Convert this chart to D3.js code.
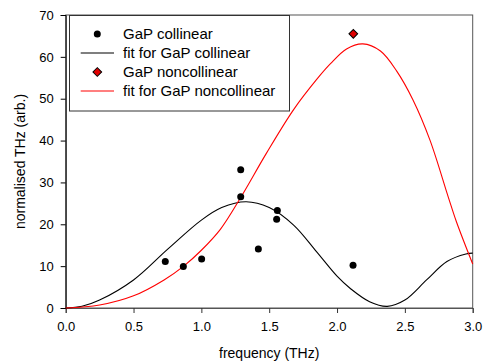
<!DOCTYPE html>
<html>
    <head>
        <meta charset="UTF-8">
        <script src="https://d3js.org/d3.v7.min.js"></script>
        <style>
            body { margin: 0; background: #fff; }
            text { font-family: Arial, "Liberation Sans", sans-serif; fill: #000; }
        </style>
    </head>

    <body>

        <svg id="canvas"></svg>

        <script>

            width = 484;
            height = 363;

            // measured data
            colFreq = [0.734, 0.867, 1.002, 1.29, 1.29, 1.42, 1.56, 1.555, 2.118];
            colVal  = [11.1, 9.9, 11.7, 33.0, 26.6, 14.1, 23.3, 21.2, 10.2];
            nonFreq = [2.12];
            nonVal  = [65.5];

            // fit curves
            colFitFreq = [0, 0.12, 0.25, 0.5, 0.75, 1.0, 1.15, 1.33, 1.5, 1.68, 1.85, 2.0, 2.1, 2.24, 2.37, 2.5, 2.66, 2.81, 2.95, 3.0];
            colFitVal  = [0, 0.4, 1.9, 6.7, 14.0, 21.0, 24.0, 25.4, 24.0, 19.8, 13.4, 7.6, 4.6, 1.5, 0.4, 1.9, 6.7, 11.1, 12.9, 13.1];
            nonFitFreq = [0, 0.25, 0.5, 0.725, 0.87, 1.0, 1.14, 1.29, 1.48, 1.68, 1.85, 1.95, 2.07, 2.19, 2.32, 2.44, 2.56, 2.685, 2.82, 2.88, 3.0];
            nonFitVal  = [0, 0.7, 2.9, 6.7, 10.0, 13.8, 18.8, 26.4, 37.0, 47.4, 54.6, 58.3, 61.9, 63.1, 61.4, 56.6, 49.7, 40.1, 26.5, 20.6, 10.5];

            xTicks = [0, 0.5, 1.0, 1.5, 2.0, 2.5, 3.0];
            yTicks = [0, 10, 20, 30, 40, 50, 60, 70];

            legendLabels = ["GaP collinear", "fit for GaP collinear", "GaP noncollinear", "fit for GaP noncollinear"];

            // plot box (window.top is read-only, so use other names)
            plotLeft = 65.7; plotRight = 472.7; plotTop = 15; plotBottom = 308;

            canvas = d3.select("#canvas")
                .attr("width", width)
                .attr("height", height);

            xscale = d3.scaleLinear().domain([0, 3]).range([plotLeft, plotRight]);
            yscale = d3.scaleLinear().domain([0, 70]).range([plotBottom, plotTop]);

            // frame
            canvas.append("rect")
                .attr("x", plotLeft).attr("y", plotTop)
                .attr("width", plotRight-plotLeft).attr("height", plotBottom-plotTop)
                .attr("style", "fill:none; stroke:#555; stroke-width:1;");

            xaxis = canvas.append("g")
                .attr("transform", "translate(0," + plotBottom + ")")
                .call(d3.axisBottom(xscale).tickValues(xTicks).tickFormat(d3.format(".1f")).tickSize(5).tickPadding(9));
            yaxis = canvas.append("g")
                .attr("transform", "translate(" + plotLeft + ",0)")
                .call(d3.axisLeft(yscale).tickValues(yTicks).tickSize(5).tickPadding(7));

            xaxis.select(".domain").attr("stroke", "#555");
            xaxis.selectAll("line").attr("stroke", "#333");
            yaxis.select(".domain").attr("stroke", "#000");
            canvas.selectAll(".tick text")
                .attr("font-size", 13)
                .attr("font-family", "Arial, 'Liberation Sans', sans-serif")
                .attr("fill", "#000");

            // axis titles
            canvas.append("text")
                .attr("x", (plotLeft+plotRight)/2).attr("y", 358)
                .attr("text-anchor", "middle")
                .attr("font-size", 14)
                .text("frequency (THz)");
            canvas.append("text")
                .attr("transform", "translate(25," + (plotTop+plotBottom)/2 + ") rotate(-90)")
                .attr("text-anchor", "middle")
                .attr("font-size", 14)
                .text("normalised THz (arb.)");

            // fits
            line = d3.line()
                .x( (d) => xscale(d[0]) )
                .y( (d) => yscale(d[1]) )
                .curve(d3.curveCatmullRom);

            canvas.append("path")
                .attr("d", line(d3.zip(colFitFreq, colFitVal)))
                .attr("style", "fill:none; stroke:#000; stroke-width:1.1;");
            canvas.append("path")
                .attr("d", line(d3.zip(nonFitFreq, nonFitVal)))
                .attr("style", "fill:none; stroke:#ff0000; stroke-width:1.1;");

            // points
            canvas.selectAll(".col")
                .data(d3.zip(colFreq, colVal))
                .enter().append("circle")
                .attr("cx", (d) => xscale(d[0]))
                .attr("cy", (d) => yscale(d[1]))
                .attr("r", 3.5)
                .attr("fill", "#000");

            diamond = d3.symbol().type(d3.symbolSquare).size(38);
            canvas.selectAll(".non")
                .data(d3.zip(nonFreq, nonVal))
                .enter().append("path")
                .attr("d", diamond)
                .attr("transform", (d) => "translate(" + xscale(d[0]) + "," + yscale(d[1]) + ") rotate(45)")
                .attr("style", "fill:#e00000; stroke:#000; stroke-width:1;");

            // legend
            legend = canvas.append("g");
            legend.append("rect")
                .attr("x", 69.5).attr("y", 15.5)
                .attr("width", 220).attr("height", 95.5)
                .attr("style", "fill:#fff; stroke:#333; stroke-width:1;");

            rows = [34, 53, 72, 91];
            legend.append("circle").attr("cx", 97.3).attr("cy", rows[0]).attr("r", 3.5).attr("fill", "#000");
            legend.append("line").attr("x1", 80.7).attr("x2", 114).attr("y1", rows[1]).attr("y2", rows[1])
                .attr("style", "stroke:#000; stroke-width:1.1;");
            legend.append("path").attr("d", diamond)
                .attr("transform", "translate(97.3," + rows[2] + ") rotate(45)")
                .attr("style", "fill:#e00000; stroke:#000; stroke-width:1;");
            legend.append("line").attr("x1", 80.7).attr("x2", 114).attr("y1", rows[3]).attr("y2", rows[3])
                .attr("style", "stroke:#ff0000; stroke-width:1.1;");

            legend.selectAll(".lab")
                .data(legendLabels)
                .enter().append("text")
                .attr("x", 123)
                .attr("y", (d,i) => rows[i] + 5)
                .attr("font-size", 15)
                .text((d) => d);

        </script>

    </body>

</html>
